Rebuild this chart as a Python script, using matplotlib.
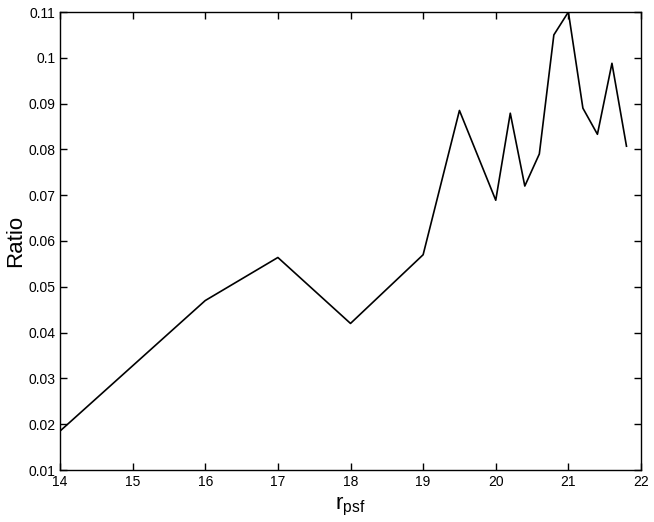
import matplotlib
matplotlib.use("Agg")
import matplotlib.pyplot as plt

plt.rcParams['font.family'] = ['Liberation Sans', 'DejaVu Sans']

r_psf = [14, 16, 17, 18, 19, 19.5, 20, 20.2, 20.4, 20.6, 20.8, 21, 21.2, 21.4, 21.6, 21.8]
ratio = [0.0185, 0.047, 0.0564, 0.042, 0.057, 0.0885, 0.0689, 0.0879, 0.0720, 0.0790,
         0.1050, 0.1100, 0.0890, 0.0833, 0.0988, 0.0807]
xticks = [14, 15, 16, 17, 18, 19, 20, 21, 22]
yticks = [0.01, 0.02, 0.03, 0.04, 0.05, 0.06, 0.07, 0.08, 0.09, 0.1, 0.11]
ytick_labels = ['0.01', '0.02', '0.03', '0.04', '0.05', '0.06', '0.07', '0.08', '0.09', '0.1', '0.11']

fig = plt.figure(figsize=(6.54, 5.22), dpi=100)
ax = fig.add_axes([60/654, 1-470/522, (641-60)/654, (470-12)/522])
ax.plot(r_psf, ratio, color='black', linewidth=1.2)
ax.set_xlim(14, 22)
ax.set_ylim(0.01, 0.11)
ax.set_xticks(xticks)
ax.set_xticklabels([str(t) for t in xticks])
ax.set_yticks(yticks)
ax.set_yticklabels(ytick_labels)
ax.tick_params(direction='in', top=True, right=True, labelsize=10, length=5, width=1)
for s in ax.spines.values():
    s.set_linewidth(1.0)
ax.set_xlabel(r'$\mathregular{r_{psf}}$', fontsize=16, labelpad=4)
ax.set_ylabel('Ratio', fontsize=16, va='center')
ax.yaxis.set_label_coords(-44/581, 0.5)
fig.savefig('out.png', dpi=100)
